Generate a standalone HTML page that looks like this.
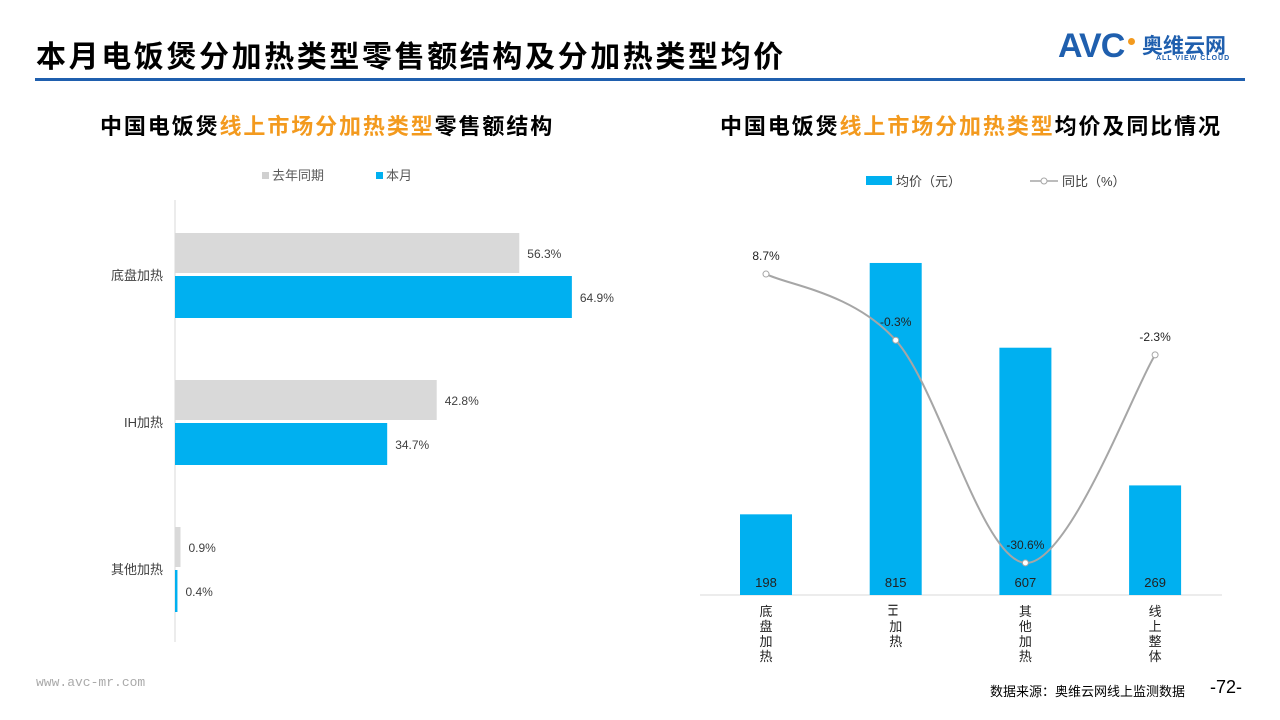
<!DOCTYPE html>
<html><head><meta charset="utf-8">
<style>
body{margin:0;width:1280px;height:720px;background:#fff;font-family:"Liberation Sans","Noto Sans CJK SC",sans-serif;position:relative;overflow:hidden}
.abs{position:absolute}
</style></head><body>
<div class="abs" style="left:36px;top:32px;font-size:30px;font-weight:bold;color:#000;letter-spacing:2.6px">本月电饭煲分加热类型零售额结构及分加热类型均价</div>
<div class="abs" style="left:35px;top:78px;width:1210px;height:3px;background:#1f5fae"></div>
<div class="abs" style="left:1058px;top:30px;width:190px;height:40px">
 <span style="position:absolute;left:0;top:-3px;font-size:34px;font-weight:bold;color:#1f5fae;letter-spacing:-1px">AVC</span>
 <span style="position:absolute;left:70px;top:8px;width:7px;height:7px;border-radius:4px;background:#f39a1e"></span>
 <span style="position:absolute;left:84px;top:0px;font-size:21px;font-weight:bold;color:#1f5fae">奥维云网</span>
 <span style="position:absolute;left:98px;top:25px;font-size:7px;font-weight:bold;color:#1f5fae;letter-spacing:1px">ALL VIEW CLOUD</span>
</div>
<div class="abs" style="left:100px;top:109px;font-size:22px;font-weight:bold;letter-spacing:1.9px">中国电饭煲<span style="color:#f39a1e">线上市场分加热类型</span>零售额结构</div>
<div class="abs" style="left:720px;top:109px;font-size:22px;font-weight:bold;letter-spacing:1.9px">中国电饭煲<span style="color:#f39a1e">线上市场分加热类型</span>均价及同比情况</div>
<div class="abs" style="left:36px;top:675px;font-size:13px;color:#aaa;font-family:'Liberation Mono',monospace">www.avc-mr.com</div>
<div class="abs" style="left:990px;top:681px;font-size:13px;color:#000">数据来源：奥维云网线上监测数据</div>
<div class="abs" style="left:1210px;top:677px;font-size:18px;color:#000">-72-</div>
<svg class="abs" style="left:0;top:0" width="1280" height="720" id="svg"></svg>
<script>
const cats=["底盘加热","IH加热","其他加热"];
const lastYear=[56.3,42.8,0.9];
const thisMonth=[64.9,34.7,0.4];
const cats2=["底盘加热","IH加热","其他加热","线上整体"];
const price=[198,815,607,269];
const yoy=[8.7,-0.3,-30.6,-2.3];
const NS="http://www.w3.org/2000/svg";
const svg=document.getElementById('svg');
function mk(t,a,txt){const e=document.createElementNS(NS,t);for(const k in a)e.setAttribute(k,a[k]);if(txt!=null)e.textContent=txt;svg.appendChild(e);return e;}
const x0=175,xs=v=>x0+v*6.115;
const band=v=>275+v*147;
let e;
e=mk('line',{x1:x0,y1:200,x2:x0,y2:642,stroke:'#d9d9d9','stroke-width':1});

e=mk('rect',{x:262,y:172,width:7,height:7,fill:'#d0d0d0'});

e=mk('text',{x:272,y:180,'font-size':13,fill:'#595959'},'去年同期');

e=mk('rect',{x:376,y:172,width:7,height:7,fill:'#00b0f0'});

e=mk('text',{x:386,y:180,'font-size':13,fill:'#595959'},'本月');

cats.forEach((c,i)=>{
 const cy=band(i);
 e=mk('text',{x:163,y:cy+5,'font-size':13,fill:'#404040','text-anchor':'end'},c);
 
 e=mk('rect',{x:x0,y:cy-42,width:xs(lastYear[i])-x0,height:40,fill:'#d9d9d9'});
 
 e=mk('text',{x:xs(lastYear[i])+8,y:cy-17,'font-size':12,fill:'#404040'},lastYear[i].toFixed(1)+'%');
 
 e=mk('rect',{x:x0,y:cy+1,width:xs(thisMonth[i])-x0,height:42,fill:'#00b0f0'});
 
 e=mk('text',{x:xs(thisMonth[i])+8,y:cy+27,'font-size':12,fill:'#404040'},thisMonth[i].toFixed(1)+'%');
 
});
const base=595,ys=v=>base-v*0.4074;
const cx=i=>766+i*129.7;
const yl=v=>338-v*7.35;
e=mk('line',{x1:700,y1:base,x2:1222,y2:base,stroke:'#d9d9d9','stroke-width':1});

e=mk('rect',{x:866,y:176,width:26,height:9,fill:'#00b0f0'});

e=mk('text',{x:896,y:186,'font-size':13,fill:'#404040'},'均价（元）');

e=mk('line',{x1:1030,y1:181,x2:1058,y2:181,stroke:'#a6a6a6','stroke-width':1.5});

e=mk('circle',{cx:1044,cy:181,r:3,fill:'#fff',stroke:'#a6a6a6'});

e=mk('text',{x:1062,y:186,'font-size':13,fill:'#404040'},'同比（%）');

price.forEach((p,i)=>{
 e=mk('rect',{x:cx(i)-26,y:ys(p),width:52,height:base-ys(p),fill:'#00b0f0'});
 
 e=mk('text',{x:cx(i),y:base-8,'font-size':13,fill:'#222','text-anchor':'middle'},String(p));
 
 const chars=i==1?['IH','加','热']:cats2[i].split('');
 chars.forEach((ch,j)=>{
  if(ch==='IH'){e=mk('text',{x:cx(i),y:614,'font-size':13,fill:'#222','text-anchor':'middle','transform':`rotate(90 ${cx(i)} 610)`,'dominant-baseline':'middle'},ch);}
  else e=mk('text',{x:cx(i),y:616+j*15,'font-size':13,fill:'#222','text-anchor':'middle'},ch);
  
 });
});
const pts=yoy.map((v,i)=>[cx(i),yl(v)]);
let d=`M${pts[0][0]},${pts[0][1]}`;
for(let i=0;i<pts.length-1;i++){
 const p0=pts[Math.max(0,i-1)],p1=pts[i],p2=pts[i+1],p3=pts[Math.min(pts.length-1,i+2)];
 const t=1/3;
 d+=` C${p1[0]+(p2[0]-p0[0])*t/2},${p1[1]+(p2[1]-p0[1])*t/2} ${p2[0]-(p3[0]-p1[0])*t/2},${p2[1]-(p3[1]-p1[1])*t/2} ${p2[0]},${p2[1]}`;
}
e=mk('path',{d:d,fill:'none',stroke:'#a6a6a6','stroke-width':2});

yoy.forEach((v,i)=>{
 e=mk('circle',{cx:pts[i][0],cy:pts[i][1],r:3,fill:'#fff',stroke:'#a6a6a6','stroke-width':1});
 
 e=mk('text',{x:pts[i][0],y:pts[i][1]-14,'font-size':12,fill:'#222','text-anchor':'middle'},v.toFixed(1)+'%');
 
});
</script>
</body></html>
